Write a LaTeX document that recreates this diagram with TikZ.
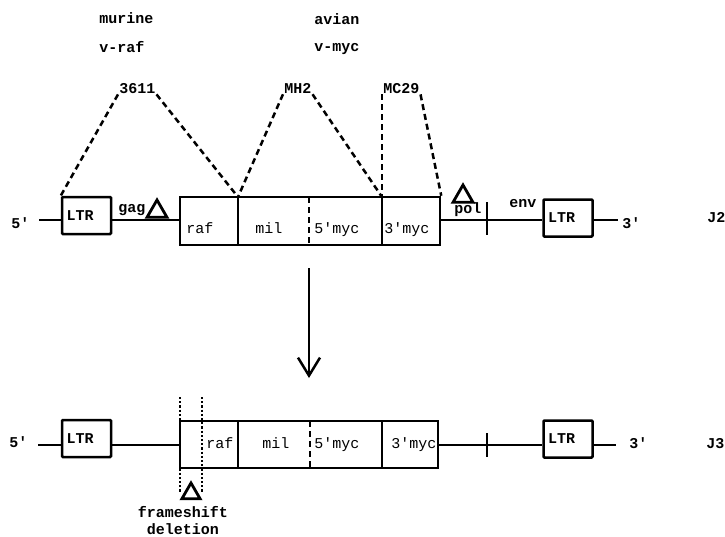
\documentclass[tikz,border=0pt]{standalone}
\usepackage{fontspec}
\newfontfamily\tw{Liberation Mono}
\newcommand\qt{\textquotesingle}
\usetikzlibrary{arrows.meta,shapes.geometric}

\begin{document}
\begin{tikzpicture}[x=1pt,y=-1pt,line width=2.5pt,
 lbl/.style={font=\tw\bfseries\fontsize{15}{18}\selectfont,inner sep=0pt,anchor=base west},
 cell/.style={font=\tw\fontsize{15}{18}\selectfont,inner sep=0pt,anchor=base west},
 ltr/.style={draw,rounded corners=1pt,minimum width=49pt,minimum height=37pt,inner sep=4.5pt,text width=40pt,align=left,font=\tw\bfseries\fontsize{15}{18}\selectfont},
 frame/.style={draw,minimum width=260pt,minimum height=48pt,inner sep=0pt},
 tri/.style={draw,regular polygon,regular polygon sides=3,minimum size=23pt,inner sep=0pt,line width=2.8pt},
 link/.style={dash pattern=on 6pt off 4pt},
 cut/.style={dash pattern=on 2.2pt off 2pt}]
\useasboundingbox (0,0) rectangle (725,536);

% viral sources
\node[lbl] (murine) at (98,23) {murine};
\node[lbl] (vraf) at (98,52) {v-raf};
\node[lbl] (avian) at (313,24) {avian};
\node[lbl] (vmyc) at (313,51) {v-myc};
\node[lbl] (s3611) at (118,93) {3611};
\node[lbl] (mh2) at (283,93) {MH2};
\node[lbl] (mc29) at (382,93) {MC29};

% J2 genome
\node[ltr] (ltrA) at (86.5,215.5) {LTR};
\node[frame] (frameA) at (310,221) {};
\node[ltr] (ltrB) at (568,218) {LTR};
\coordinate (startA) at (39,220);
\coordinate (stopA) at (618,220);
\coordinate (dA1) at (238,197);
\coordinate (dA2) at (309,197);
\coordinate (dA3) at (382,197);
\draw (dA1) -- (dA1 |- frameA.south);
\draw[link] (dA2) -- (dA2 |- frameA.south);
\draw (dA3) -- (dA3 |- frameA.south);
\draw (startA) -- (startA -| ltrA.west);
\draw (startA -| ltrA.east) -- (startA -| frameA.west);
\draw (startA -| frameA.east) -- (startA -| ltrB.west);
\draw (startA -| ltrB.east) -- (stopA);
\draw (487,202) -- (487,235);
\node[tri] (triGag) at (157,211.5) {};
\node[tri] (triPol) at (463,196.5) {};
\node[lbl] (p5A) at (10,228) {5\qt};
\node[lbl] (gag) at (117,212) {gag};
\node[lbl] (pol) at (453,213) {pol};
\node[lbl] (env) at (508,207) {env};
\node[lbl] (p3A) at (621,228) {3\qt};
\node[lbl] (j2) at (706,222) {J2};
\node[cell] (rafA) at (185,233) {raf};
\node[cell] (milA) at (254,233) {mil};
\node[cell] (myc5A) at (313,233) {5\qt myc};
\node[cell] (myc3A) at (383,233) {3\qt myc};

% origin of the pieces
\draw[link] (s3611.south west) -- (ltrA.north west);
\draw[link] (s3611.south east) -- (dA1);
\draw[link] (mh2.south west) -- (dA1);
\draw[link] (mh2.south east) -- (dA3);
\draw[link] (mc29.south west) -- (dA3);
\draw[link] (mc29.south east) -- (frameA.north east);

% conversion
\coordinate (arrS) at (309,268);
\coordinate (arrE) at (309,378);
\draw[-{Straight Barb[length=18pt,width=22pt]}] (arrS) -- (arrE);

% J3 genome
\node[ltr] (ltrC) at (86.5,438.5) {LTR};
\node[frame,minimum width=258pt,minimum height=47pt] (frameB) at (309,444.5) {};
\node[ltr] (ltrD) at (568,439) {LTR};
\coordinate (startB) at (38,445);
\coordinate (stopB) at (616,445);
\coordinate (dB1) at (238,421);
\coordinate (dB2) at (310,421);
\coordinate (dB3) at (382,421);
\draw (dB1) -- (dB1 |- frameB.south);
\draw[link] (dB2) -- (dB2 |- frameB.south);
\draw (dB3) -- (dB3 |- frameB.south);
\draw (startB) -- (startB -| ltrC.west);
\draw (startB -| ltrC.east) -- (startB -| frameB.west);
\draw (startB -| frameB.east) -- (startB -| ltrD.west);
\draw (startB -| ltrD.east) -- (stopB);
\draw (487,433) -- (487,457);
\draw[cut] (180,397) -- (180,493);
\draw[cut] (202,397) -- (202,493);
\node[tri,minimum size=21pt] (triDel) at (191,493.5) {};
\node[lbl] (p5B) at (8,447) {5\qt};
\node[lbl] (p3B) at (628,448) {3\qt};
\node[lbl] (j3) at (705,448) {J3};
\node[cell] (rafB) at (205,448) {raf};
\node[cell] (milB) at (261,448) {mil};
\node[cell] (myc5B) at (313,448) {5\qt myc};
\node[cell] (myc3B) at (390,448) {3\qt myc};
\node[lbl,anchor=base] (fs) at (183,517) {frameshift};
\node[lbl,anchor=base] (del) at (183,534) {deletion};
\end{tikzpicture}
\end{document}
